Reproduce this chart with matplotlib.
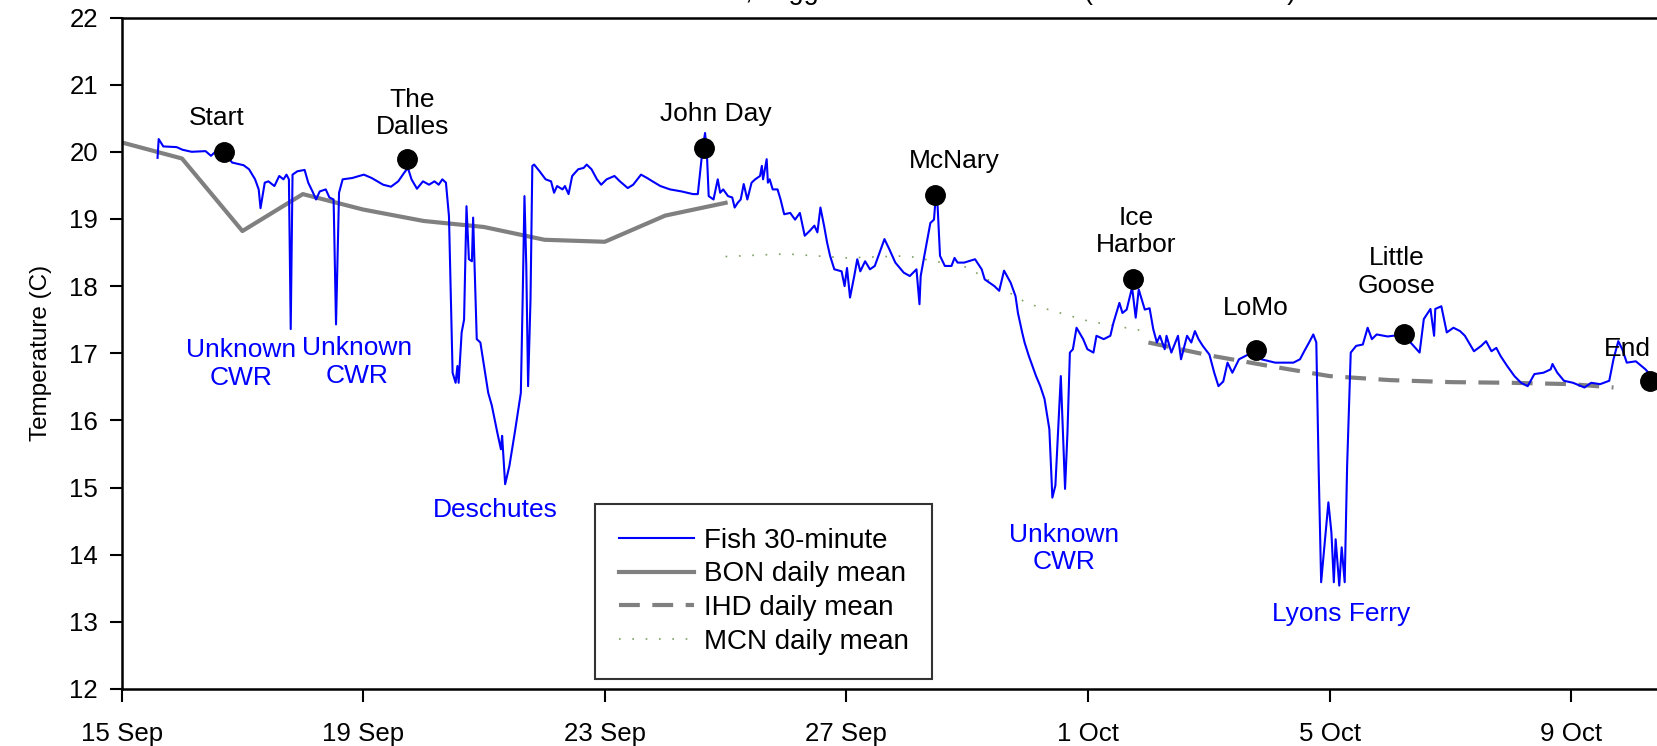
import numpy as np
import matplotlib
matplotlib.use("Agg")
import matplotlib.pyplot as plt
import matplotlib.dates as mdates

plt.rcParams['font.family'] = ['Liberation Sans', 'DejaVu Sans']

# ---------------- data (days after 15 Sep 00:00, temperature C) ----------------
START = np.datetime64('2015-09-15T00:00')

fish_days = [0.595, 0.614, 0.69, 0.91, 1.01, 1.16, 1.39, 1.48, 1.54, 1.70, 1.83, 2.02, 2.11, 2.21,
             2.27, 2.30, 2.37, 2.43, 2.53, 2.61, 2.68, 2.73, 2.77, 2.80, 2.83, 2.91, 3.03, 3.09,
             3.16, 3.22, 3.28, 3.38, 3.44, 3.51, 3.55, 3.60, 3.66, 3.82, 4.01, 4.14, 4.33, 4.46,
             4.58, 4.68, 4.74, 4.80, 4.89, 4.99, 5.09, 5.18, 5.25, 5.31, 5.37, 5.42, 5.48, 5.53,
             5.56, 5.58, 5.63, 5.67, 5.71, 5.75, 5.80, 5.82, 5.84, 5.88, 5.94, 6.07, 6.13, 6.22,
             6.28, 6.30, 6.35, 6.42, 6.51, 6.61, 6.64, 6.67, 6.70, 6.73, 6.77, 6.80, 6.83, 6.92,
             7.02, 7.11, 7.16, 7.21, 7.30, 7.34, 7.40, 7.46, 7.56, 7.65, 7.70, 7.78, 7.87, 7.94,
             8.03, 8.16, 8.25, 8.38, 8.47, 8.60, 8.70, 8.79, 8.92, 9.08, 9.27, 9.46, 9.54, 9.62,
             9.66, 9.69, 9.72, 9.80, 9.87, 9.91, 9.96, 10.04, 10.11, 10.15, 10.20, 10.25, 10.30,
             10.36, 10.43, 10.49, 10.57, 10.60, 10.62, 10.68, 10.70, 10.73, 10.78, 10.86, 10.91,
             10.97, 11.07, 11.15, 11.23, 11.31, 11.39, 11.47, 11.52, 11.57, 11.63, 11.68, 11.73,
             11.80, 11.92, 11.97, 12.01, 12.06, 12.13, 12.18, 12.23, 12.31, 12.39, 12.47, 12.55,
             12.63, 12.71, 12.81, 12.95, 13.05, 13.16, 13.21, 13.23, 13.29, 13.39, 13.45, 13.48,
             13.51, 13.55, 13.63, 13.74, 13.79, 13.84, 13.95, 14.13, 14.24, 14.29, 14.45, 14.53,
             14.61, 14.72, 14.80, 14.84, 14.91, 14.95, 15.02, 15.06, 15.14, 15.21, 15.28, 15.36,
             15.41, 15.46, 15.55, 15.62, 15.66, 15.70, 15.75, 15.81, 15.92, 15.99, 16.09, 16.14,
             16.26, 16.37, 16.42, 16.52, 16.57, 16.64, 16.73, 16.79, 16.84, 16.89, 16.94, 17.02,
             17.08, 17.14, 17.19, 17.27, 17.30, 17.38, 17.49, 17.54, 17.64, 17.71, 17.77, 17.83,
             17.90, 18.01, 18.09, 18.16, 18.24, 18.31, 18.39, 18.50, 18.65, 18.78, 18.87, 19.10,
             19.40, 19.51, 19.58, 19.66, 19.73, 19.78, 19.82, 19.86, 19.98, 20.03, 20.07, 20.10,
             20.16, 20.20, 20.25, 20.29, 20.35, 20.44, 20.55, 20.63, 20.70, 20.78, 20.96, 21.23,
             21.34, 21.49, 21.56, 21.67, 21.73, 21.75, 21.85, 21.94, 22.05, 22.16, 22.24, 22.39,
             22.51, 22.59, 22.68, 22.76, 22.83, 22.94, 23.06, 23.17, 23.28, 23.39, 23.54, 23.66,
             23.69, 23.77, 23.88, 24.03, 24.22, 24.33, 24.48, 24.63, 24.70, 24.78, 24.85, 24.92,
             25.07, 25.23, 25.43]
fish_temp = [19.91, 20.19, 20.08, 20.07, 20.03, 20.00, 20.01, 19.94, 19.99, 19.99, 19.84, 19.80,
             19.74, 19.59, 19.44, 19.16, 19.54, 19.56, 19.49, 19.64, 19.59, 19.66, 19.59, 17.36,
             19.66, 19.71, 19.73, 19.54, 19.41, 19.29, 19.41, 19.44, 19.32, 19.29, 17.43, 19.39,
             19.59, 19.61, 19.66, 19.61, 19.51, 19.48, 19.56, 19.69, 19.76, 19.59, 19.45, 19.56,
             19.51, 19.56, 19.51, 19.59, 19.54, 19.04, 16.71, 16.56, 16.81, 16.56, 17.31, 17.50,
             19.19, 18.40, 18.37, 19.02, 18.40, 17.21, 17.16, 16.41, 16.22, 15.82, 15.57, 15.77,
             15.05, 15.32, 15.82, 16.41, 17.80, 19.34, 18.30, 16.51, 17.80, 19.79, 19.81, 19.71,
             19.59, 19.56, 19.39, 19.49, 19.44, 19.49, 19.37, 19.64, 19.74, 19.76, 19.81, 19.74,
             19.59, 19.51, 19.59, 19.64, 19.56, 19.46, 19.51, 19.66, 19.61, 19.56, 19.49, 19.44,
             19.41, 19.37, 19.37, 20.05, 20.28, 19.98, 19.34, 19.29, 19.59, 19.39, 19.44, 19.34,
             19.32, 19.17, 19.24, 19.29, 19.52, 19.29, 19.54, 19.59, 19.64, 19.79, 19.59, 19.89,
             19.54, 19.59, 19.44, 19.44, 19.29, 19.07, 19.09, 18.99, 19.09, 18.75, 18.82, 18.90,
             18.80, 19.17, 18.90, 18.65, 18.45, 18.25, 18.22, 18.00, 18.27, 17.83, 18.15, 18.40,
             18.22, 18.37, 18.25, 18.30, 18.50, 18.70, 18.55, 18.35, 18.20, 18.15, 18.25, 17.73,
             18.15, 18.45, 18.94, 18.99, 19.34, 19.19, 18.45, 18.30, 18.30, 18.42, 18.35, 18.35,
             18.40, 18.25, 18.10, 18.00, 17.93, 18.23, 18.05, 17.85, 17.60, 17.31, 17.16, 16.96,
             16.86, 16.66, 16.51, 16.32, 15.87, 14.85, 15.03, 16.66, 14.98, 15.82, 17.01, 17.06,
             17.38, 17.21, 17.06, 17.01, 17.26, 17.21, 17.26, 17.45, 17.75, 17.60, 17.65, 17.98,
             17.53, 17.95, 17.80, 17.65, 17.67, 17.36, 17.16, 17.26, 17.06, 17.26, 17.01, 17.26,
             16.91, 17.26, 17.16, 17.33, 17.21, 17.11, 16.98, 16.71, 16.51, 16.58, 16.86, 16.71,
             16.91, 16.98, 17.05, 16.91, 16.86, 16.86, 16.91, 17.03, 17.16, 17.28, 17.16, 15.23,
             13.59, 14.78, 14.33, 13.59, 14.23, 13.54, 14.11, 13.59, 15.32, 17.01, 17.11, 17.13,
             17.38, 17.21, 17.28, 17.25, 17.28, 17.16, 17.01, 17.51, 17.66, 17.26, 17.66, 17.70,
             17.31, 17.38, 17.33, 17.26, 17.03, 17.11, 17.18, 17.03, 17.08, 16.96, 16.81, 16.66,
             16.56, 16.51, 16.69, 16.71, 16.76, 16.84, 16.71, 16.59, 16.56, 16.49, 16.56, 16.54,
             16.59, 16.91, 17.18, 17.05, 16.86, 16.88, 16.76, 16.56]

bon_days = [0, 1, 2, 3, 4, 5, 6, 7, 8, 9, 10]
bon_temp = [20.14, 19.90, 18.82, 19.37, 19.14, 18.97, 18.88, 18.69, 18.66, 19.05, 19.24]

ihd_days = [17, 18, 19, 20, 21, 22, 23, 24, 24.7]
ihd_temp = [17.16, 16.97, 16.81, 16.66, 16.60, 16.57, 16.56, 16.54, 16.49]

mcn_days = [10, 11, 12, 13, 14, 15, 16, 17]
mcn_temp = [18.44, 18.48, 18.42, 18.45, 18.28, 17.74, 17.48, 17.32]

site_names = ["Start", "The\nDalles", "John Day", "McNary", "Ice\nHarbor", "LoMo",
              "Little\nGoose", "End"]
site_days = [1.70, 4.73, 9.635, 13.47, 16.74, 18.78, 21.23, 25.30]
site_temp = [19.99, 19.89, 20.06, 19.35, 18.10, 17.05, 17.28, 16.59]
site_label_days = [1.57, 4.81, 9.83, 13.78, 16.79, 18.77, 21.11, 24.93]
site_label_temp = [20.51, 20.57, 20.57, 19.86, 18.81, 17.68, 18.21, 17.06]

cwr_names = ["Unknown\nCWR", "Unknown\nCWR", "Deschutes", "Unknown\nCWR", "Lyons Ferry"]
cwr_days = [1.98, 3.90, 6.19, 15.60, 20.19]
cwr_temp = [16.84, 16.87, 14.67, 14.09, 13.12]

y_ticks = [12, 13, 14, 15, 16, 17, 18, 19, 20, 21, 22]
x_tick_days = [0, 4, 8, 12, 16, 20, 24]

title_text = "Fish 384, Tagged at Bonneville Dam (Chinook salmon)"


def to_dates(days):
    return START + (np.asarray(days) * 86400).round().astype('timedelta64[s]')


# ---------------- figure ----------------
fig = plt.figure(figsize=(16.58, 7.46), dpi=100)
W, H = 1658, 746
left = 121.6 / W
bottom = 1 - 689 / H
top = 1 - 17.5 / H
x_max_day = 26
width = 60.4 * x_max_day / W
ax = fig.add_axes([left, bottom, width, top - bottom])

ax.plot(to_dates(fish_days), fish_temp, color='#0000ff', lw=1.5, label='Fish 30-minute', zorder=3)
ax.plot(to_dates(bon_days), bon_temp, color='#808080', lw=3, label='BON daily mean', zorder=2)
ax.plot(to_dates(ihd_days), ihd_temp, color='#808080', lw=3, ls=(0, (5, 3)),
        label='IHD daily mean', zorder=2)
ax.plot(to_dates(mcn_days), mcn_temp, color='#7fa060', lw=1.2, ls=(0, (1, 7)),
        label='MCN daily mean', zorder=2)

ax.plot(to_dates(site_days), site_temp, 'o', color='black', ms=14, zorder=5, clip_on=False)

for name, d, t in zip(site_names, site_label_days, site_label_temp):
    ax.text(to_dates([d])[0], t, name, ha='center', va='center', fontsize=19,
            linespacing=1.18, color='black')
for name, d, t in zip(cwr_names, cwr_days, cwr_temp):
    ax.text(to_dates([d])[0], t, name, ha='center', va='center', fontsize=19,
            linespacing=1.18, color='#0000ff')

ax.set_ylim(12, 22)
ax.set_yticks(y_ticks)
ax.set_xlim(to_dates([0])[0], to_dates([x_max_day])[0])
ax.set_xticks(to_dates(x_tick_days))
ax.xaxis.set_major_formatter(mdates.DateFormatter('%-d %b'))

for side in ['left', 'bottom', 'top']:
    ax.spines[side].set_linewidth(1.8)
ax.spines['right'].set_visible(False)
ax.tick_params(axis='both', direction='out', length=9, width=1.5, labelsize=18.6)
ax.tick_params(axis='x', pad=15)
ax.tick_params(axis='y', pad=8)

ax.set_ylabel('Temperature (C)', fontsize=17.5, labelpad=12)

leg = ax.legend(loc='upper left', bbox_to_anchor=(595 / W, 1 - 504 / H),
                bbox_transform=fig.transFigure, fontsize=20, frameon=True,
                fancybox=False, edgecolor='black', handlelength=2.7,
                handletextpad=0.37, labelspacing=0.28, borderpad=0.85, borderaxespad=0)
leg.get_frame().set_linewidth(1.5)

fig.text(641 / W, 1 + 1.0 / H, title_text, ha='left', va='baseline', fontsize=19.5)

fig.savefig('out.png', dpi=100)
